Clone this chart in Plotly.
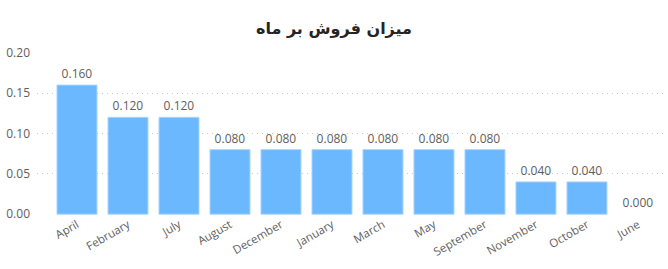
import plotly.graph_objects as go

months = ["April", "February", "July", "August", "December", "January", "March",
          "May", "September", "November", "October", "June"]
sales = [0.16, 0.12, 0.12, 0.08, 0.08, 0.08, 0.08, 0.08, 0.08, 0.04, 0.04, 0.0]
title_text = "میزان فروش بر ماه"
y_ticks = [0.0, 0.05, 0.10, 0.15, 0.20]

fig = go.Figure(go.Bar(
    x=months, y=sales,
    marker=dict(color="#6CB8FF",
                line=dict(color="#A9D4FF", width=[1 if v > 0 else 0 for v in sales])),
    text=[f"{v:.3f}" for v in sales], textposition="outside",
    textfont=dict(color="#605E5C", size=12, family="Open Sans"),
    cliponaxis=False,
))
fig.update_layout(
    width=668, height=269,
    margin=dict(l=37, r=3, t=52, b=54),
    paper_bgcolor="white", plot_bgcolor="white",
    title=dict(text=title_text, x=0.5, xanchor="center", y=0.895, yanchor="middle",
               font=dict(family="DejaVu Sans", size=16, color="#252423", weight="bold")),
    bargap=0.216,
    showlegend=False,
    font=dict(family="Open Sans", color="#605E5C", size=11),
)
fig.update_xaxes(range=[-0.784, 11.53], tickangle=-30, showgrid=False, showline=False,
                 ticks="", tickfont=dict(size=11.5, color="#605E5C"))
fig.update_yaxes(range=[-0.001, 0.201], tickvals=y_ticks, tickformat=".2f", showgrid=True,
                 gridcolor="#C8C8C8", griddash="1px,4px", gridwidth=1, zeroline=False,
                 showline=False, ticks="", ticklabelstandoff=6,
                 tickfont=dict(size=12, color="#605E5C"))
fig.write_html("out.html")
